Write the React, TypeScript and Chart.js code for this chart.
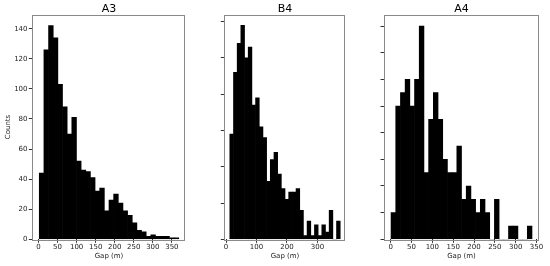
import React, { useEffect, useRef } from "react";
import { Chart, registerables } from "chart.js";
Chart.register(...registerables);

// Histogram counts (30 bins per panel)
const A3_COUNTS = [44, 126, 142, 134, 103, 88, 70, 81, 52, 46, 45, 41, 32, 34, 19, 26, 30, 24, 19, 16, 11, 6, 5, 2, 3, 2, 2, 2, 1, 1];
const B4_COUNTS = [29, 46, 54, 59, 50, 53, 37, 39, 31, 28, 16, 22, 24, 18, 14, 11, 13, 13, 14, 8, 1, 5, 1, 4, 1, 4, 2, 8, 0, 5];
const A4_COUNTS = [2, 10, 11, 12, 10, 12, 16, 5, 9, 11, 9, 6, 5, 5, 7, 3, 4, 3, 2, 3, 2, 0, 3, 0, 0, 1, 1, 0, 0, 1];

// Bin edges: first edge and bin width (m)
const A3_BIN_START = 2;
const A3_BIN_WIDTH = 12.2;
const B4_BIN_START = 12.5;
const B4_BIN_WIDTH = 12.07;
const A4_BIN_START = 1;
const A4_BIN_WIDTH = 11.27;

// Tick values
const A3_X_TICKS = [0, 50, 100, 150, 200, 250, 300, 350];
const B4_X_TICKS = [0, 100, 200, 300];
const A4_X_TICKS = [0, 50, 100, 150, 200, 250, 300, 350];
const A3_Y_TICKS = [0, 20, 40, 60, 80, 100, 120, 140];
const B4_Y_TICKS = [0, 10, 20, 30, 40, 50, 60];
const A4_Y_TICKS = [0, 2, 4, 6, 8, 10, 12, 14, 16];

const FONT = '"DejaVu Sans", sans-serif';
const H = 266;

type Panel = {
  title: string;
  counts: number[];
  binStart: number;
  binWidth: number;
  xTicks: number[];
  yTicks: number[];
  showYLabels: boolean;
  yTitle: string;
  xMin: number;
  xMax: number;
  yMax: number;
  left: number;
  width: number;
  yAxisWidth: number;
  padRight: number;
};

const PANELS: Panel[] = [
  {
    title: "A3", counts: A3_COUNTS, binStart: A3_BIN_START, binWidth: A3_BIN_WIDTH,
    xTicks: A3_X_TICKS, yTicks: A3_Y_TICKS, showYLabels: true, yTitle: "Counts",
    xMin: -16.3, xMax: 386.3, yMax: 149.3,
    left: 0, width: 190, yAxisWidth: 32.3, padRight: 4.3,
  },
  {
    title: "B4", counts: B4_COUNTS, binStart: B4_BIN_START, binWidth: B4_BIN_WIDTH,
    xTicks: B4_X_TICKS, yTicks: B4_Y_TICKS, showYLabels: false, yTitle: "",
    xMin: -5.6, xMax: 392.6, yMax: 61.9,
    left: 190, width: 165, yAxisWidth: 34.3, padRight: 9.3,
  },
  {
    title: "A4", counts: A4_COUNTS, binStart: A4_BIN_START, binWidth: A4_BIN_WIDTH,
    xTicks: A4_X_TICKS, yTicks: A4_Y_TICKS, showYLabels: false, yTitle: "",
    xMin: -15.9, xMax: 355.9, yMax: 16.85,
    left: 355, width: 195, yAxisWidth: 29, padRight: 11,
  },
];

function HistPanel({ p }: { p: Panel }) {
  const ref = useRef<HTMLCanvasElement | null>(null);
  useEffect(() => {
    if (!ref.current) return;
    const framePlugin = {
      id: "frameTitle",
      afterDatasetsDraw(chart: any) {
        const { ctx, chartArea: a } = chart;
        ctx.save();
        ctx.strokeStyle = "#8a8a8a";
        ctx.lineWidth = 1;
        ctx.strokeRect(Math.round(a.left) + 0.5, Math.round(a.top) + 0.5, Math.round(a.right - a.left) - 1, Math.round(a.bottom - a.top));
        ctx.fillStyle = "#000";
        ctx.font = `11px ${FONT}`;
        ctx.textAlign = "center";
        ctx.textBaseline = "alphabetic";
        ctx.fillText(p.title, (a.left + a.right) / 2, 12.4);
        ctx.restore();
      },
    };
    const chart = new Chart(ref.current, {
      type: "bar",
      data: {
        datasets: [
          {
            data: p.counts.map((c, i) => ({ x: p.binStart + (i + 0.5) * p.binWidth, y: c })),
            backgroundColor: "#000",
            borderWidth: 0,
            barPercentage: 1,
            categoryPercentage: 1,
          },
        ],
      },
      options: {
        animation: false,
        responsive: false,
        devicePixelRatio: 1,
        layout: { padding: { top: 14.7, right: p.padRight, left: 0, bottom: 0 } },
        plugins: { legend: { display: false }, tooltip: { enabled: false }, title: { display: false } },
        scales: {
          x: {
            type: "linear",
            offset: false,
            min: p.xMin,
            max: p.xMax,
            border: { display: false },
            grid: { offset: false, drawOnChartArea: false, color: "#333", tickLength: 3.5, lineWidth: 1 },
            ticks: {
              autoSkip: false, maxRotation: 0, padding: 0.6, color: "#222",
              font: { family: FONT, size: 7 },
            },
            title: {
              display: true, text: "Gap (m)", color: "#222",
              font: { family: FONT, size: 7 }, padding: { top: 0, bottom: 5.6 },
            },
            afterBuildTicks: (s: any) => { s.ticks = p.xTicks.map((v) => ({ value: v })); },
            afterFit: (s: any) => { s.height = H - 239.3; },
          },
          y: {
            type: "linear",
            min: 0,
            max: p.yMax,
            border: { display: false },
            grid: { drawOnChartArea: false, color: "#333", tickLength: 3.5, lineWidth: 1 },
            ticks: {
              padding: 1.3, color: "#222",
              font: { family: FONT, size: 7 },
              callback: (v: any) => (p.showYLabels ? String(v) : ""),
            },
            title: {
              display: p.yTitle !== "", text: p.yTitle, color: "#222",
              font: { family: FONT, size: 7 }, padding: { top: 4.1, bottom: 0 },
            },
            afterBuildTicks: (s: any) => { s.ticks = p.yTicks.map((v) => ({ value: v })); },
            afterFit: (s: any) => { s.width = p.yAxisWidth; },
          },
        },
      } as any,
      plugins: [framePlugin],
    });
    return () => chart.destroy();
  }, [p]);
  return (
    <canvas
      ref={ref}
      width={p.width}
      height={H}
      style={{ position: "absolute", left: p.left, top: 0, width: p.width, height: H }}
    />
  );
}

export default function App() {
  return (
    <div style={{ position: "absolute", left: 0, top: 0, width: 550, height: H, background: "#fff" }}>
      {PANELS.map((p) => (
        <HistPanel key={p.title} p={p} />
      ))}
    </div>
  );
}
